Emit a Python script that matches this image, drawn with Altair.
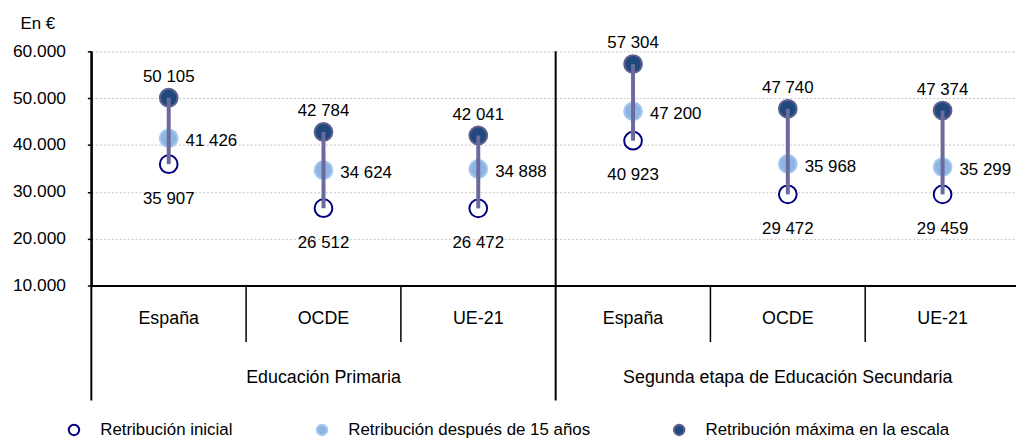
import altair as alt
import pandas as pd

FONT = "Liberation Sans, Arial, sans-serif"
FS = 17

grupos = ["Educación Primaria"] * 3 + ["Segunda etapa de Educación Secundaria"] * 3
categorias = ["España", "OCDE", "UE-21", "España", "OCDE", "UE-21"]
inicial = [35907, 26512, 26472, 40923, 29472, 29459]
quince = [41426, 34624, 34888, 47200, 35968, 35299]
maxima = [50105, 42784, 42041, 57304, 47740, 47374]
series = ["Retribución inicial", "Retribución después de 15 años",
          "Retribución máxima en la escala"]
y_ticks = [10000, 20000, 30000, 40000, 50000, 60000]


def fmt(v):
    return f"{v:,}".replace(",", " ")


keys = [f"{g}|{c}" for g, c in zip(grupos, categorias)]
wide = pd.DataFrame({
    "key": keys,
    "grupo": grupos,
    "categoria": categorias,
    "ini": inicial,
    "mid": quince,
    "max": maxima,
    "ini_lbl": [fmt(v) for v in inicial],
    "mid_lbl": [fmt(v) for v in quince],
    "max_lbl": [fmt(v) for v in maxima],
    "primero": [i == 0 or grupos[i] != grupos[i - 1] for i in range(len(keys))],
    "centro": [i % 3 == 1 for i in range(len(keys))],
})

rows = []
for i, k in enumerate(keys):
    for s, v in zip(series, [inicial[i], quince[i], maxima[i]]):
        rows.append({"key": k, "serie": s, "valor": v})
long = pd.DataFrame(rows)

xscale = alt.Scale(type="band", domain=keys, range=[0, 936], paddingInner=0, paddingOuter=0)
xaxis = alt.Axis(labels=False, ticks=False, title=None, grid=False,
                 domainColor="black", domainWidth=2)
X = alt.X("key:N", sort=keys, scale=xscale, axis=xaxis)
X0 = alt.X("key:N", sort=keys, scale=xscale, axis=xaxis, bandPosition=0)

yscale = alt.Scale(domain=[10000, 60000], nice=False, zero=False)
yaxis = alt.Axis(values=y_ticks,
                 labelExpr="replace(format(datum.value, ','), ',', '.')",
                 labelFont=FONT, labelFontSize=17.5, labelColor="black", labelPadding=22,
                 tickSize=4, tickColor="black", tickWidth=1.5,
                 domainColor="black", domainWidth=2,
                 grid=True, gridDash=[2, 2], gridColor="#c4c4c4", gridWidth=1,
                 title="En €", titleAngle=0, titleAlign="left", titleBaseline="middle",
                 titleX=-72, titleY=-28, titleFont=FONT, titleFontSize=FS,
                 titleFontWeight="normal", titleColor="black")

legend = alt.Legend(title=None, orient="none", legendX=-26, legendY=373,
                    direction="horizontal", columns=3, columnPadding=80,
                    labelFont=FONT, labelFontSize=FS, labelColor="black",
                    labelOffset=18, labelLimit=400, padding=0,
                    symbolType="circle", symbolSize=110, symbolStrokeWidth=2,
                    symbolOpacity=1)

points = alt.Chart(long).mark_point(filled=True, size=320, strokeWidth=2, opacity=1).encode(
    x=X,
    y=alt.Y("valor:Q", scale=yscale, axis=yaxis),
    fill=alt.Fill("serie:N", scale=alt.Scale(domain=series, range=["white", "#8db4e2", "#1f497d"]),
                  legend=legend),
    stroke=alt.Stroke("serie:N", scale=alt.Scale(domain=series, range=["#000080", "#a6c8ee", "#5f5f90"]),
                      legend=legend),
)

base = alt.Chart(wide)

rule = base.mark_rule(color="#6a6a9c", strokeWidth=4).encode(
    x=X, y=alt.Y("max:Q", scale=yscale), y2="ini:Q")

txt = dict(font=FONT, fontSize=FS, color="black", baseline="middle")
txt_big = dict(font=FONT, fontSize=18, color="black", baseline="middle")
max_t = base.mark_text(dy=-21, **txt).encode(x=X, y=alt.Y("max:Q", scale=yscale), text="max_lbl:N")
mid_t = base.mark_text(align="left", dx=17, dy=3, **txt).encode(
    x=X, y=alt.Y("mid:Q", scale=yscale), text="mid_lbl:N")
ini_t = base.mark_text(dy=35, **txt).encode(x=X, y=alt.Y("ini:Q", scale=yscale), text="ini_lbl:N")

cat_t = base.mark_text(**txt_big).encode(x=X, y=alt.value(270), text="categoria:N")
grp_t = base.transform_filter("datum.centro").mark_text(**txt_big).encode(
    x=X, y=alt.value(329), text="grupo:N")

sep_short = base.transform_filter("!datum.primero").mark_rule(color="black", strokeWidth=1.5).encode(
    x=X0, y=alt.value(236), y2=alt.value(293))
sep_long = base.transform_filter("datum.primero").mark_rule(color="black", strokeWidth=2).encode(
    x=X0, y=alt.value(0), y2=alt.value(352))

chart = alt.layer(points, rule, max_t, mid_t, ini_t, cat_t, grp_t, sep_short, sep_long).properties(
    width=932, height=236,
    autosize=alt.AutoSizeParams(type="none"),
    padding={"left": 84, "top": 42, "right": 0, "bottom": 153},
).configure_view(stroke=None)

chart.save("out.html", embed_options={"renderer": "svg", "actions": False})
